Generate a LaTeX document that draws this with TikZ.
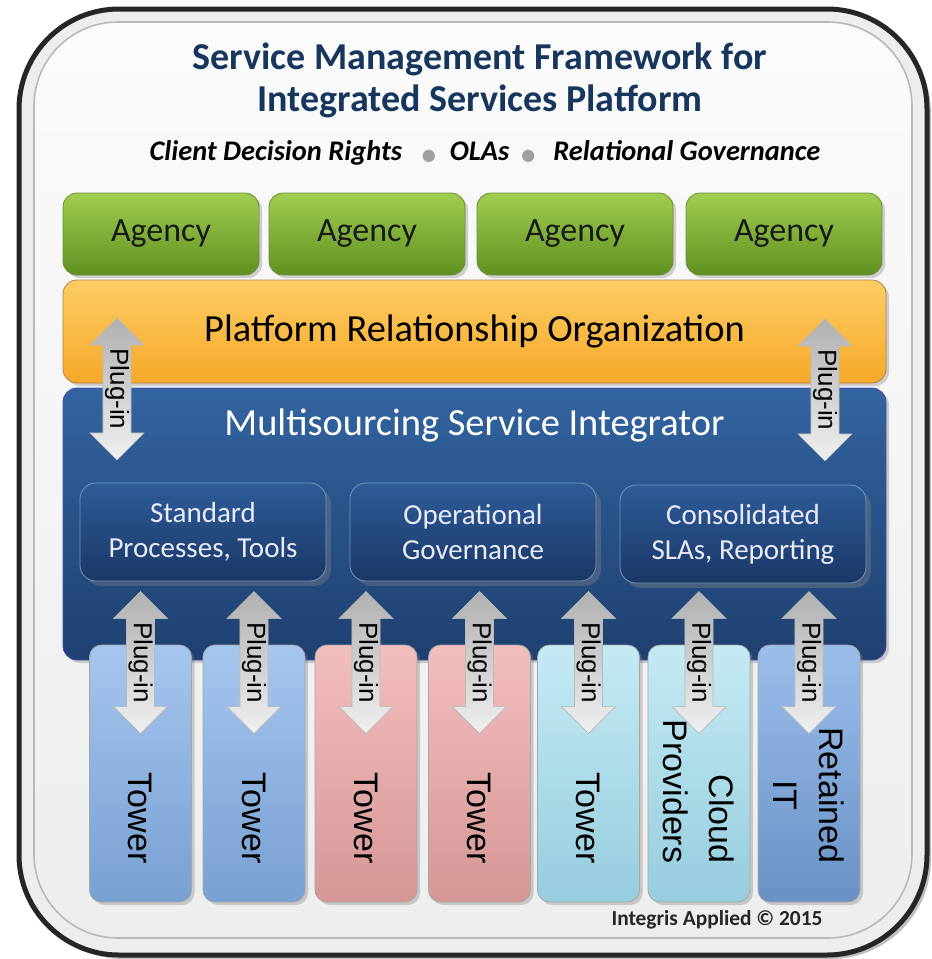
\documentclass[tikz,border=0pt]{standalone}
\usepackage{fontspec}
\setmainfont{Carlito}
\newfontfamily\arialfont{Liberation Sans}
\newfontfamily\dotsfont{DejaVu Sans}
\usetikzlibrary{shapes.arrows,shadows}

\definecolor{titlenavy}{RGB}{23,54,93}
\definecolor{agencytop}{RGB}{160,205,80}
\definecolor{agencybot}{RGB}{96,145,32}
\definecolor{agencyline}{RGB}{110,140,60}
\definecolor{protop}{RGB}{253,205,100}
\definecolor{probot}{RGB}{246,168,40}
\definecolor{msitop}{RGB}{50,100,160}
\definecolor{msibot}{RGB}{30,64,112}
\definecolor{subtop}{RGB}{45,92,152}
\definecolor{subbot}{RGB}{26,56,102}
\definecolor{bluetop}{RGB}{165,198,238}
\definecolor{bluebot}{RGB}{120,160,210}
\definecolor{pinktop}{RGB}{242,190,190}
\definecolor{pinkbot}{RGB}{214,150,150}
\definecolor{cyantop}{RGB}{196,234,244}
\definecolor{cyanbot}{RGB}{150,205,222}
\definecolor{rettop}{RGB}{155,190,235}
\definecolor{retbot}{RGB}{105,145,198}

\begin{document}
\begin{tikzpicture}[x=0.5pt, y=-0.5pt,
        layerbox/.style={draw=gray!70, rounded corners=7pt,
            drop shadow={opacity=0.35, shadow xshift=1.5pt, shadow yshift=-1.5pt}},
        agency/.style={layerbox, draw=agencyline, top color=agencytop, bottom color=agencybot,
            minimum width=98pt, minimum height=41pt, text=black!90, font=\fontsize{17}{20}\selectfont},
        subbox/.style={draw=white!35!subtop, rounded corners=8pt, top color=subtop, bottom color=subbot,
            minimum width=123pt, minimum height=49pt, text=white!92!blue, align=center,
            font=\fontsize{14.5}{17.5}\selectfont, drop shadow={opacity=0.4}},
        tower/.style={layerbox, rounded corners=6pt, minimum width=51pt, minimum height=128.5pt},
        towertext/.style={rotate=-90, anchor=east, text=black, font=\arialfont\fontsize{17}{23}\selectfont},
        plugin/.style={double arrow, rotate=-90, double arrow head extend=6.5pt, double arrow tip angle=90,
            minimum width=26.5pt, minimum height=71pt, inner ysep=0.8pt, inner xsep=0pt, draw=gray!55,
            line width=0.3pt, top color=gray!62, bottom color=gray!12, text=black,
            font=\arialfont\fontsize{13}{15}\selectfont}
    ]
        \useasboundingbox (0,0) rectangle (932,959);
        % frame
        \draw[line width=2.5pt, draw=black!85, fill=gray!14, rounded corners=50pt,
            drop shadow={opacity=0.5, shadow xshift=2pt, shadow yshift=-2pt}] (19,9) rectangle (927,955);
        \draw[draw=gray!55, line width=0.8pt, rounded corners=42pt, top color=white!97!gray,
            bottom color=gray!14] (34,22) rectangle (912,938);

        \node[align=center, text=titlenavy, font=\bfseries\fontsize{19}{21}\selectfont] (title)
            at (480,80) {Service Management Framework for\\Integrated Services Platform};
        \node[font=\bfseries\itshape\fontsize{14.2}{16}\selectfont] (subtitle) at (485,153)
            {Client Decision Rights\hspace{10pt}{\color{gray!75}\dotsfont\fontsize{8}{9}\selectfont ●}\hspace{7pt}OLAs\hspace{6pt}{\color{gray!75}\dotsfont\fontsize{8}{9}\selectfont ●}\hspace{9pt}Relational Governance};

        \node[agency] (ag1) at (161,234) {Agency};
        \node[agency] (ag2) at (367,234) {Agency};
        \node[agency] (ag3) at (575,234) {Agency};
        \node[agency] (ag4) at (784,234) {Agency};

        \node[layerbox, draw=gray!60!orange, top color=protop, bottom color=probot, minimum width=411.5pt,
            minimum height=51.5pt, font=\fontsize{19.2}{22}\selectfont] (pro) at (474.5,331.5)
            {Platform Relationship Organization};
        \node[layerbox, draw=gray!60!blue, top color=msitop, bottom color=msibot, minimum width=411.5pt,
            minimum height=136pt] (msi) at (474.5,524) {};
        \node[text=white, font=\fontsize{19.2}{22}\selectfont] (msititle) at (474.5,425)
            {Multisourcing Service Integrator};

        \node[subbox] (sp) at (203,532) {Standard\\Processes, Tools};
        \node[subbox] (og) at (473,532) {Operational\\Governance};
        \node[subbox] (cs) at (743,534) {Consolidated\\SLAs, Reporting};

        \node[tower, top color=bluetop, bottom color=bluebot] (tw1) at (140.5,773.5) {};
        \node[tower, top color=bluetop, bottom color=bluebot] (tw2) at (254,773.5) {};
        \node[tower, top color=pinktop, bottom color=pinkbot] (tw3) at (366,773.5) {};
        \node[tower, top color=pinktop, bottom color=pinkbot] (tw4) at (479.5,773.5) {};
        \node[tower, top color=cyantop, bottom color=cyanbot] (tw5) at (588.5,773.5) {};
        \node[tower, top color=cyantop, bottom color=cyanbot] (tw6) at (699,773.5) {};
        \node[tower, top color=rettop, bottom color=retbot] (tw7) at (809,773.5) {};

        \node[towertext] (tx1) at ([yshift=16pt]tw1.south) {Tower};
        \node[towertext] (tx2) at ([yshift=16pt]tw2.south) {Tower};
        \node[towertext] (tx3) at ([yshift=16pt]tw3.south) {Tower};
        \node[towertext] (tx4) at ([yshift=16pt]tw4.south) {Tower};
        \node[towertext] (tx5) at ([yshift=16pt]tw5.south) {Tower};
        \node[towertext, align=right] (tx6) at ([yshift=16pt]tw6.south) {Cloud\\Providers};
        \node[towertext, align=center] (tx7) at ([yshift=16pt]tw7.south) {Retained\\IT};

        % plug-in arrows
        \node[plugin] (pitl) at (117,389) {Plug-in};
        \node[plugin] (pitr) at (825,390) {Plug-in};
        \node[plugin] (pi1) at ([yshift=-9pt]tw1.north) {Plug-in};
        \node[plugin] (pi2) at ([yshift=-9pt]tw2.north) {Plug-in};
        \node[plugin] (pi3) at ([yshift=-9pt]tw3.north) {Plug-in};
        \node[plugin] (pi4) at ([yshift=-9pt]tw4.north) {Plug-in};
        \node[plugin] (pi5) at ([yshift=-9pt]tw5.north) {Plug-in};
        \node[plugin] (pi6) at ([yshift=-9pt]tw6.north) {Plug-in};
        \node[plugin] (pi7) at ([yshift=-9pt]tw7.north) {Plug-in};

        \node[font=\bfseries\fontsize{10.7}{12}\selectfont, text=black!85] (copy) at (717,920)
            {Integris Applied © 2015};
\end{tikzpicture}
\end{document}
